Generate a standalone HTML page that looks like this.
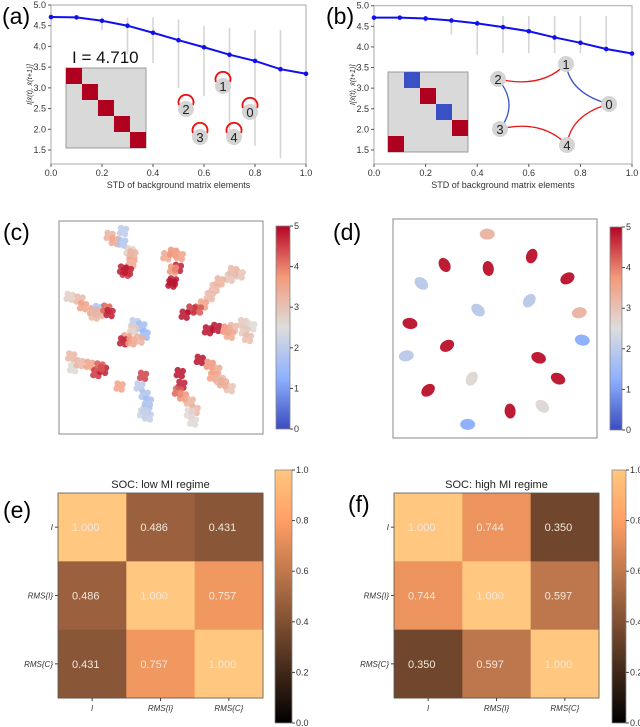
<!DOCTYPE html>
<html><head><meta charset="utf-8"><style>
html,body{margin:0;padding:0;background:#fff}
svg{display:block;font-family:"Liberation Sans","DejaVu Sans",sans-serif}
</style></head><body>
<svg id="fig" width="640" height="727" viewBox="0 0 640 727" xmlns="http://www.w3.org/2000/svg">
<g id="layer"></g>
</svg>
<script>
// ---------- data ----------
const stdTicks = [0,0.2,0.4,0.6,0.8,1.0];
const miTicks = [1.5,2.0,2.5,3.0,3.5,4.0,4.5,5.0];
const stdX = [0,0.1,0.2,0.3,0.4,0.5,0.6,0.7,0.8,0.9,1.0];
const miA = [4.71,4.70,4.62,4.50,4.33,4.15,3.98,3.80,3.65,3.45,3.34];
const miB = [4.71,4.71,4.69,4.64,4.57,4.48,4.38,4.23,4.10,3.95,3.84];
const spreadALo = [4.7,4.7,4.4,3.8,3.6,3.0,2.8,1.9,1.6,1.3,3.3];
const spreadAHi = [4.7,4.7,4.7,4.7,4.7,4.65,4.5,4.45,4.4,4.4,3.4];
const spreadBLo = [4.7,4.7,4.6,4.3,3.8,3.85,3.85,3.85,3.85,3.85,3.8];
const spreadBHi = [4.7,4.7,4.7,4.7,4.65,4.75,4.75,4.75,4.75,4.75,3.9];
const heatLabels = ['I','RMS{I}','RMS{C}'];
const heatE = [[1.000,0.486,0.431],[0.486,1.000,0.757],[0.431,0.757,1.000]];
const heatF = [[1.000,0.744,0.350],[0.744,1.000,0.597],[0.350,0.597,1.000]];
const cbTicks = [0,0.2,0.4,0.6,0.8,1.0];
const umapTicks = [0,1,2,3,4,5];
// umap (c): [fx, fy, value]
const umapC = [[.248,.07,3.3],[.273,.094,3.5],[.314,.047,2],[.310,.102,1.8],[.346,.141,2.8],[.360,.157,3.3],[.355,.196,3.5],[.338,.235,4.8],[.327,.243,4.6],[.314,.228,4.8],
[.526,.165,3.5],[.559,.149,3.8],[.592,.165,3.6],[.583,.220,4.8],[.559,.228,3.8],[.559,.283,4.8],[.551,.294,4.9],
[.886,.251,3.0],[.853,.235,3.2],[.837,.267,3.0],[.788,.283,3.3],[.763,.314,3.2],[.739,.353,3.2],[.706,.392,3.6],[.681,.416,4.3],[.649,.416,4.6],[.616,.440,4.9],
[.052,.356,2.8],[.101,.369,3.2],[.118,.400,3.6],[.167,.424,3.6],[.191,.413,1.8],[.199,.432,3.3],[.232,.411,4.2],[.248,.432,4.8],[.175,.444,3.2],
[.371,.479,2.0],[.404,.495,1.6],[.420,.534,1.5],[.363,.510,2.8],[.330,.550,3.6],[.314,.565,4.8],[.355,.565,3.6],[.395,.557,3.3],
[.730,.513,4.9],[.771,.502,4.9],[.820,.510,3.8],[.853,.502,3.2],[.902,.479,2.9],[.943,.495,2.6],[.910,.518,2.9],[.926,.549,3.1],[.837,.534,3.5],
[.060,.636,3.2],[.069,.691,2.6],[.101,.667,3.2],[.150,.675,3.6],[.183,.714,4.6],[.216,.699,4.8],[.199,.683,4.3],
[.412,.727,4.5],[.297,.777,3.6],[.395,.777,2.0],[.420,.816,1.8],[.436,.848,1.7],[.428,.887,1.8],[.436,.918,2.1],[.412,.903,2.2],
[.592,.714,4.9],[.600,.769,4.8],[.583,.801,4.2],[.608,.824,3.8],[.641,.848,3.3],[.665,.887,3.2],[.641,.903,2.6],[.657,.942,2.6],
[.690,.652,4.9],[.739,.675,3.8],[.771,.699,3.5],[.755,.730,3.6],[.788,.746,3.2],[.837,.785,3.0],[.804,.762,3.4]];
// umap (d): [fx, fy, value, angle]
const umapD = [[.462,.069,3.2,0],[.680,.169,4.8,-70],[.253,.210,4.8,60],[.467,.226,4.8,80],[.855,.271,4.8,-30],[.139,.294,2.0,40],[.668,.373,2.0,-50],[.417,.416,2.0,40],[.913,.428,3.2,-10],[.083,.477,4.8,10],[.265,.579,4.8,-30],[.928,.553,1.3,10],[.065,.625,2.0,-10],[.714,.634,4.8,20],[.809,.729,4.8,25],[.386,.729,2.6,-60],[.172,.782,4.8,-40],[.574,.877,4.8,85],[.732,.855,2.6,40],[.366,.938,1.3,0]];

// ---------- helpers ----------
const NS='http://www.w3.org/2000/svg';
const root=document.getElementById('layer');
function el(tag,attrs,parent,text){const e=document.createElementNS(NS,tag);for(const k in attrs)e.setAttribute(k,attrs[k]);if(text!==undefined)e.textContent=text;(parent||root).appendChild(e);return e;}
function lerp(a,b,t){return a+(b-a)*t}
function coolwarm(v){const t=Math.max(0,Math.min(1,v/5));const s=[[0,59,76,192],[0.25,141,176,254],[0.5,221,221,221],[0.75,244,154,123],[1,180,4,38]];for(let i=0;i<4;i++){if(t<=s[i+1][0]){const u=(t-s[i][0])/(s[i+1][0]-s[i][0]);return `rgb(${Math.round(lerp(s[i][1],s[i+1][1],u))},${Math.round(lerp(s[i][2],s[i+1][2],u))},${Math.round(lerp(s[i][3],s[i+1][3],u))})`;}}return 'rgb(180,4,38)';}
function copper(v){return `rgb(${Math.round(255*Math.min(1,1.25*v))},${Math.round(255*0.7812*v)},${Math.round(255*0.4975*v)})`;}

// ---------- panel letters ----------
[['(a)',2,24],['(b)',326,24],['(c)',3,240],['(d)',333,240],['(e)',3,518],['(f)',348,512]].forEach(p=>{
 const t=el('text',{x:p[1],y:p[2],'font-size':23,fill:'#000'},root,p[0]);
 
 
});

// ---------- line panels ----------
function linePanel(id,x0,x1,yTop,yBottom,series,lo,hi){
 const g=el('g',{},root);
 
 
 const X=v=>x0+(x1-x0)*v;
 const y5=yTop, y15=150;
 const Y=v=>y15+(y5-y15)*(v-1.5)/3.5;
 stdX.forEach((s,i)=>{const b=el('line',{x1:X(s),x2:X(s),y1:Y(lo[i]),y2:Y(hi[i]),stroke:'#d6d6d6','stroke-width':1.6},g);
  
  });
 const f=el('rect',{x:x0,y:yTop,width:x1-x0,height:yBottom-yTop,fill:'none',stroke:'#aaa','stroke-width':1},g);
 
 
 stdTicks.forEach(t=>{el('line',{x1:X(t),x2:X(t),y1:yBottom,y2:yBottom+3,stroke:'#555'},g);
  const tx=el('text',{x:X(t),y:yBottom+12,'font-size':9,'text-anchor':'middle',fill:'#333'},g,t.toFixed(1));
  
  });
 miTicks.forEach(t=>{el('line',{x1:x0-3,x2:x0,y1:Y(t),y2:Y(t),stroke:'#555'},g);
  const tx=el('text',{x:x0-5,y:Y(t)+3,'font-size':9,'text-anchor':'end',fill:'#333'},g,t.toFixed(1));
  
  });
 const xt=el('text',{x:(x0+x1)/2,y:yBottom+24,'font-size':9,'text-anchor':'middle',fill:'#333'},g,'STD of background matrix elements');
 
 
 const yt=el('text',{x:0,y:0,'font-size':7.5,'text-anchor':'middle',fill:'#333','font-style':'italic',transform:`translate(${x0-19},${(yTop+yBottom)/2}) rotate(-90)`},g,'I[x̄(t), x̄(t+1)]');
 
 
 const pts=stdX.map((s,i)=>X(s)+','+Y(series[i])).join(' ');
 const pl=el('polyline',{points:pts,fill:'none',stroke:'#1010ee','stroke-width':2},g);
 
 
 stdX.forEach((s,i)=>{const c=el('circle',{cx:X(s),cy:Y(series[i]),r:2.3,fill:'#1010ee'},g);
  
  });
 return g;
}
const gA=linePanel('a',51,306,5,164,miA,spreadALo,spreadAHi);
const gB=linePanel('b',374,632,5.7,164,miB,spreadBLo,spreadBHi);

function matrix(g,x,y,cells,name){
 const m=el('g',{},g);
 
 
 el('rect',{x:x,y:y,width:80,height:80,fill:'#d9d9d9',stroke:'#999'},m);
 cells.forEach(c=>el('rect',{x:x+c[1]*16,y:y+c[0]*16,width:16,height:16,fill:c[2]},m));
}
const R='#b00020',B='#3a50c4';
matrix(gA,66,68,[[0,0,R],[1,1,R],[2,2,R],[3,3,R],[4,4,R]],'matrix-inset-a');
matrix(gB,388,72,[[0,1,B],[1,2,R],[2,3,B],[3,4,R],[4,0,R]],'matrix-inset-b');
const it=el('text',{x:72,y:63,'font-size':17,fill:'#111'},gA,'I = 4.710');



function node(g,x,y,label){
 const n=el('g',{},g);
 
 
 el('circle',{cx:x,cy:y,r:8,fill:'#d4d4d4'},n);
 el('text',{x:x,y:y+5,'font-size':13,'text-anchor':'middle',fill:'#222'},n,label);
}
[[223,86,'1'],[186,109,'2'],[250,112,'0'],[200,137,'3'],[234,137,'4']].forEach(p=>{
 const lp=el('path',{d:`M${p[0]-7},${p[1]-4} A7.5 7.5 0 1 1 ${p[0]+7},${p[1]-4}`,fill:'none',stroke:'#ee1111','stroke-width':1.8},gA);
 
 
 node(gA,p[0],p[1],p[2]);
});
const nb={'1':[566,64],'2':[498,79],'0':[609,104],'3':[500,129],'4':[567,145]};
[['2','1','#e81515'],['1','0',B],['0','4','#e81515'],['4','3','#e81515'],['3','2',B]].forEach(e=>{
 const a=nb[e[0]],b=nb[e[1]];const mx=(a[0]+b[0])/2,my=(a[1]+b[1])/2;
 const dx=mx-550,dy=my-104;const L=Math.hypot(dx,dy);const k=-20;
 const ed=el('path',{d:`M${a[0]},${a[1]} Q${mx+dx/L*k},${my+dy/L*k} ${b[0]},${b[1]}`,fill:'none',stroke:e[2],'stroke-width':1.3},gB);
 
 
});
Object.keys(nb).forEach(k=>node(gB,nb[k][0],nb[k][1],k));

// ---------- umap panels ----------
function colorbar(id,x,y,w,h,ticks,cmapFn,maxV,fmt){
 const g=el('g',{},root);
 
 
 const gid='grad'+id;
 const defs=el('defs',{},g);
 const lg=el('linearGradient',{id:gid,x1:0,y1:1,x2:0,y2:0},defs);
 for(let i=0;i<=20;i++)el('stop',{offset:i/20,'stop-color':cmapFn(maxV*i/20)},lg);
 el('rect',{x:x,y:y,width:w,height:h,fill:`url(#${gid})`,stroke:'#888','stroke-width':0.8},g);
 ticks.forEach(t=>{const ty=y+h-h*t/maxV;el('line',{x1:x+w,x2:x+w+3,y1:ty,y2:ty,stroke:'#444'},g);
  const tx=el('text',{x:x+w+4,y:ty+3,'font-size':9,fill:'#333'},g,fmt(t));
  
  });
}
const blobOffsets=[[0,0],[3,-2],[-3,2],[2,3],[-2,-3]];
function umap(id,x,y,w,h,pts,isD){
 const g=el('g',{},root);
 
 
 el('rect',{x:x,y:y,width:w,height:h,fill:'#fff',stroke:'#888','stroke-width':1},g);
 pts.forEach(p=>{const px=x+p[0]*w,py=y+p[1]*h;let m;
  if(isD){m=el('ellipse',{cx:px,cy:py,rx:7.5,ry:5.5,fill:coolwarm(p[2]),transform:`rotate(${p[3]},${px},${py})`},g);}
  else{m=el('g',{fill:coolwarm(p[2]),opacity:0.85},g);
   blobOffsets.forEach(o=>el('circle',{cx:px+o[0],cy:py+o[1],r:3.2},m));}
  
  });
}
umap('c',59,221,204,213,umapC,false);
colorbar('c',276,226,14,203,umapTicks,coolwarm,5,t=>String(t));
umap('d',393,219,204,219,umapD,true);
colorbar('d',610,227,12,203,umapTicks,coolwarm,5,t=>String(t));

// ---------- heatmaps ----------
function heat(id,x,y,s,mat,title){
 const g=el('g',{},root);
 
 
 const c=s/3;
 mat.forEach((row,i)=>row.forEach((v,j)=>{
  const r=el('rect',{x:x+j*c,y:y+i*c,width:c+0.5,height:c+0.5,fill:copper(v)},g);
  
  
  const t=el('text',{x:x+j*c+14,y:y+i*c+c/2+4,'font-size':11,fill:'#f3e8dc'},g,v.toFixed(3));
  
  
 }));
 el('rect',{x:x,y:y,width:s,height:s,fill:'none',stroke:'#555','stroke-width':0.8},g);
 const tt=el('text',{x:x+s/2,y:y-5,'font-size':11,'text-anchor':'middle',fill:'#222'},g,title);
 
 
 heatLabels.forEach((l,i)=>{
  el('line',{x1:x-3,x2:x,y1:y+i*c+c/2,y2:y+i*c+c/2,stroke:'#444'},g);
  const a=el('text',{x:x-5,y:y+i*c+c/2+3,'font-size':8,'text-anchor':'end','font-style':'italic',fill:'#333'},g,l);
  
  
  el('line',{x1:x+i*c+c/2,x2:x+i*c+c/2,y1:y+s,y2:y+s+3,stroke:'#444'},g);
  const b=el('text',{x:x+i*c+c/2,y:y+s+13,'font-size':8,'text-anchor':'middle','font-style':'italic',fill:'#333'},g,l);
  
  
 });
}
heat('e',58,493,205,heatE,'SOC: low MI regime');
colorbar('e',275,470,17,253,cbTicks,copper,1,t=>t.toFixed(1));
heat('f',394,493,205,heatF,'SOC: high MI regime');
colorbar('f',612,470,14,253,cbTicks,copper,1,t=>t.toFixed(1));
</script>
</body></html>
